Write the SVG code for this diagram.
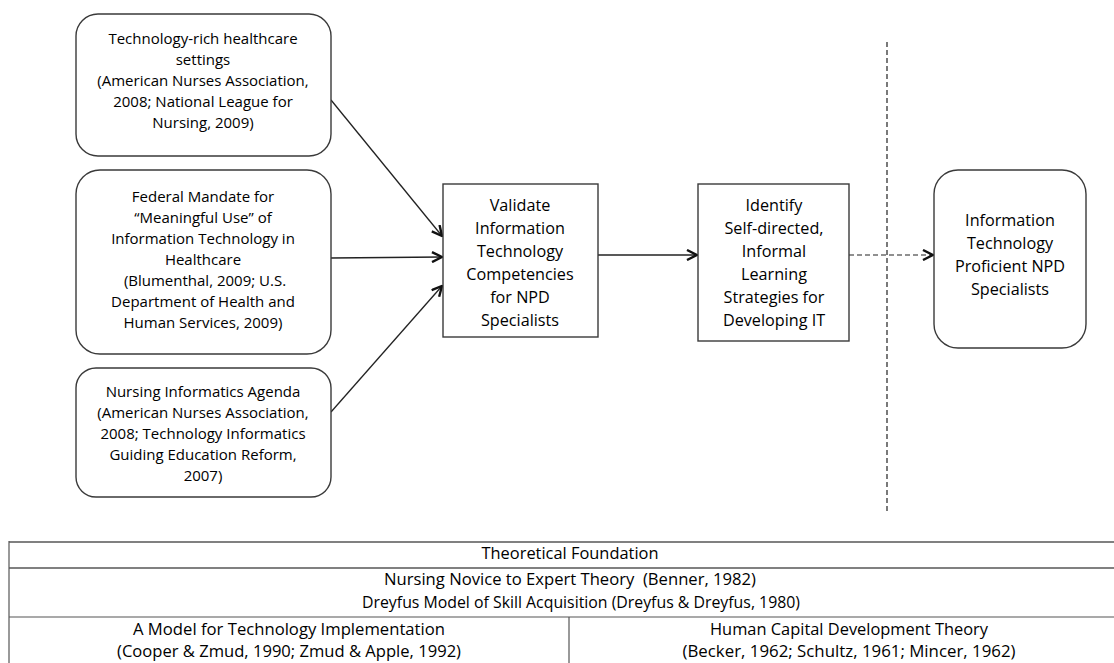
<svg xmlns="http://www.w3.org/2000/svg" width="1114" height="663" viewBox="0 0 1114 663">
  <style>
    .box { fill: #ffffff; stroke: #3a3a3a; stroke-width: 1.4; }
    .t { font-family: "Open Sans", Lato, "Liberation Sans", sans-serif; fill: #000; text-anchor: middle; }
    .s14 { font-size: 15px; }
    .s15 { font-size: 16.2px; }
    .tab { font-size: 15.5px; }
    .edge { stroke: #222; stroke-width: 1.3; fill: none; }
    .dash { stroke: #222; stroke-width: 1.2; fill: none; stroke-dasharray: 5 3; }
    .rule { stroke: #808080; stroke-width: 2; }
    .rule2 { stroke: #555; stroke-width: 1.2; }
  </style>
  <defs>
    <marker id="open" viewBox="0 0 12 12" refX="11" refY="6" markerWidth="12" markerHeight="12" markerUnits="userSpaceOnUse" orient="auto">
      <polyline points="1,1 11,6 1,11" fill="none" stroke="#111" stroke-width="2.4" stroke-linejoin="miter"/>
    </marker>
  </defs>

  <rect width="1114" height="663" fill="#ffffff"/>

  <!-- connectors -->
  <g id="connectors">
    <line class="edge" x1="331" y1="100" x2="442" y2="236" marker-end="url(#open)"/>
    <line class="edge" x1="331" y1="258" x2="442" y2="257" marker-end="url(#open)"/>
    <line class="edge" x1="331" y1="412" x2="442" y2="286" marker-end="url(#open)"/>
    <line class="edge" x1="598" y1="255" x2="697" y2="255" marker-end="url(#open)"/>
    <line class="dash" x1="849" y1="255" x2="933" y2="255" marker-end="url(#open)"/>
    <line class="dash" x1="887" y1="42" x2="887" y2="512" stroke-dasharray="4 3"/>
  </g>

  <!-- drivers -->
  <g id="tech-rich-settings">
    <rect class="box" x="76" y="14" width="255" height="142" rx="22"/>
    <text class="t s14" x="203" y="44">Technology-rich healthcare</text>
    <text class="t s14" x="203" y="65">settings</text>
    <text class="t s14" x="203" y="86">(American Nurses Association,</text>
    <text class="t s14" x="203" y="107">2008; National League for</text>
    <text class="t s14" x="203" y="128">Nursing, 2009)</text>
  </g>

  <g id="federal-mandate">
    <rect class="box" x="76" y="170" width="255" height="184" rx="24"/>
    <text class="t s14" x="203" y="202">Federal Mandate for</text>
    <text class="t s14" x="203" y="223">“Meaningful Use” of</text>
    <text class="t s14" x="203" y="244">Information Technology in</text>
    <text class="t s14" x="203" y="265">Healthcare</text>
    <text class="t s14" x="205" y="286">(Blumenthal, 2009; U.S.</text>
    <text class="t s14" x="203" y="307">Department of Health and</text>
    <text class="t s14" x="203" y="328">Human Services, 2009)</text>
  </g>

  <g id="informatics-agenda">
    <rect class="box" x="76" y="368" width="255" height="129" rx="20"/>
    <text class="t s14" x="203" y="397">Nursing Informatics Agenda</text>
    <text class="t s14" x="203" y="418">(American Nurses Association,</text>
    <text class="t s14" x="203" y="439">2008; Technology Informatics</text>
    <text class="t s14" x="203" y="460">Guiding Education Reform,</text>
    <text class="t s14" x="203" y="481">2007)</text>
  </g>

  <!-- process steps -->
  <g id="validate">
    <rect class="box" x="443" y="184" width="155" height="153"/>
    <text class="t s15" x="520" y="211">Validate</text>
    <text class="t s15" x="520" y="234">Information</text>
    <text class="t s15" x="520" y="257">Technology</text>
    <text class="t s15" x="520" y="280">Competencies</text>
    <text class="t s15" x="520" y="303">for NPD</text>
    <text class="t s15" x="520" y="326">Specialists</text>
  </g>

  <g id="identify">
    <rect class="box" x="698" y="184" width="151" height="157"/>
    <text class="t s15" x="774" y="211">Identify</text>
    <text class="t s15" x="774" y="234">Self-directed,</text>
    <text class="t s15" x="774" y="257">Informal</text>
    <text class="t s15" x="774" y="280">Learning</text>
    <text class="t s15" x="774" y="303">Strategies for</text>
    <text class="t s15" x="774" y="326">Developing IT</text>
  </g>

  <g id="outcome">
    <rect class="box" x="934" y="170" width="152" height="178" rx="24"/>
    <text class="t s15" x="1010" y="226">Information</text>
    <text class="t s15" x="1010" y="249">Technology</text>
    <text class="t s15" x="1010" y="272">Proficient NPD</text>
    <text class="t s15" x="1010" y="295">Specialists</text>
  </g>

  <!-- theoretical foundation table -->
  <g id="foundation">
    <line class="rule" x1="9" y1="542" x2="1114" y2="542"/>
    <line class="rule" x1="9" y1="568" x2="1114" y2="568"/>
    <line class="rule2" x1="9" y1="617" x2="1114" y2="617"/>
    <line class="rule2" x1="9" y1="541" x2="9" y2="663"/>
    <line class="rule2" x1="569" y1="617" x2="569" y2="663"/>
    <text class="t tab" x="570" y="559" textLength="177" lengthAdjust="spacingAndGlyphs">Theoretical Foundation</text>
    <text class="t tab" x="570" y="585" textLength="372" lengthAdjust="spacingAndGlyphs">Nursing Novice to Expert Theory&#160; (Benner, 1982)</text>
    <text class="t tab" x="581" y="608" textLength="438" lengthAdjust="spacingAndGlyphs">Dreyfus Model of Skill Acquisition (Dreyfus &amp; Dreyfus, 1980)</text>
    <text class="t tab" x="289" y="635" textLength="312" lengthAdjust="spacingAndGlyphs">A Model for Technology Implementation</text>
    <text class="t tab" x="289" y="657" textLength="344" lengthAdjust="spacingAndGlyphs">(Cooper &amp; Zmud, 1990; Zmud &amp; Apple, 1992)</text>
    <text class="t tab" x="849" y="635" textLength="278" lengthAdjust="spacingAndGlyphs">Human Capital Development Theory</text>
    <text class="t tab" x="849" y="657" textLength="333" lengthAdjust="spacingAndGlyphs">(Becker, 1962; Schultz, 1961; Mincer, 1962)</text>
  </g>
</svg>
